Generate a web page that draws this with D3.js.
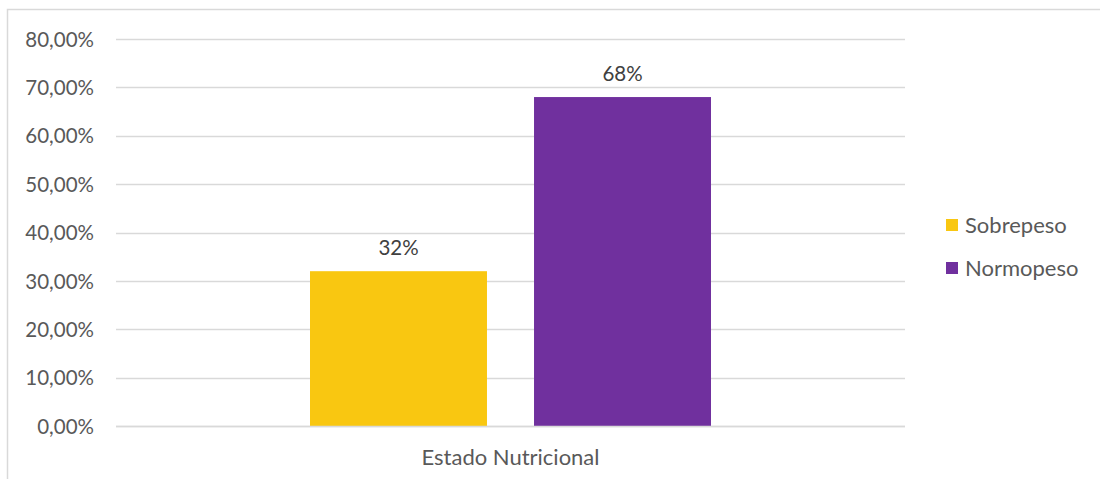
<!DOCTYPE html>
<html><head><meta charset="utf-8">
<script src="https://cdn.jsdelivr.net/npm/d3@7"></script>
<style>body{margin:0;background:#fff;} svg{display:block;font-family:"Lato","Open Sans",sans-serif;}</style>
</head><body>
<svg id="chart" width="1100" height="479"></svg>
<script>
const categories = ["Estado Nutricional"];
const seriesNames = ["Sobrepeso", "Normopeso"];
const seriesValues = [0.32, 0.68];
const seriesLabels = ["32%", "68%"];
const seriesColors = ["#F9C711", "#70309E"];
const yTicks = [0, 0.1, 0.2, 0.3, 0.4, 0.5, 0.6, 0.7, 0.8];

const svg = d3.select("#chart");
const plot = {left: 116, right: 905, top: 39, bottom: 426};

// outer chart border (extends past canvas on right/bottom)
svg.append("rect").attr("x", 7.5).attr("y", 9.5).attr("width", 1200).attr("height", 600)
  .attr("fill", "none").attr("stroke", "#d9d9d9").attr("stroke-width", 1.5);

const y = d3.scaleLinear().domain([0, 0.8]).range([plot.bottom, plot.top]);
const x0 = d3.scaleBand().domain(categories).range([plot.left, plot.right]).paddingInner(0).paddingOuter(0);
const bw = x0.bandwidth();
const edge = 194 / 789;
const x1 = d3.scaleBand().domain(seriesNames).range([bw*edge, bw*(1-edge)]).paddingInner(0.21).paddingOuter(0);

const fmt = v => d3.format(".2f")(v*100).replace(".", ",") + "%";

// gridlines
svg.append("g").selectAll("line").data(yTicks).join("line")
  .attr("x1", plot.left).attr("x2", plot.right)
  .attr("y1", d => Math.round(y(d)) + 0.5).attr("y2", d => Math.round(y(d)) + 0.5)
  .attr("stroke", "#d9d9d9").attr("stroke-width", 1.5);

// y axis labels
const yAxis = d3.axisLeft(y).tickValues(yTicks).tickFormat(fmt).tickSize(0).tickPadding(0);
const ga = svg.append("g").attr("transform", `translate(94,0)`).call(yAxis);
ga.select(".domain").remove();
ga.selectAll("text").attr("fill", "#595959").attr("font-size", 20.5).attr("font-family", "Lato, 'Open Sans', sans-serif").attr("dy", "0.35em");

// bars
const data = seriesNames.map((s, i) => ({cat: categories[0], s, v: seriesValues[i], label: seriesLabels[i], color: seriesColors[i]}));
const gb = svg.append("g");
gb.selectAll("rect").data(data).join("rect")
  .attr("x", d => x0(d.cat) + x1(d.s))
  .attr("width", x1.bandwidth())
  .attr("y", d => y(d.v))
  .attr("height", d => y(0) - y(d.v))
  .attr("fill", d => d.color);

// axis baseline on top of bars
svg.append("line").attr("x1", plot.left).attr("x2", plot.right)
  .attr("y1", Math.round(y(0)) + 0.5).attr("y2", Math.round(y(0)) + 0.5)
  .attr("stroke", "#d9d9d9").attr("stroke-width", 1.5);

// data labels
gb.selectAll("text").data(data).join("text")
  .attr("x", d => x0(d.cat) + x1(d.s) + x1.bandwidth()/2)
  .attr("y", d => y(d.v) - 16)
  .attr("text-anchor", "middle")
  .attr("fill", "#404040").attr("font-size", 20.5)
  .text(d => d.label);

// category axis
const xAxis = d3.axisBottom(x0).tickSize(0).tickPadding(0);
const gx = svg.append("g").attr("transform", `translate(0,${plot.bottom + 31})`).call(xAxis);
gx.select(".domain").remove();
gx.selectAll("text").attr("fill", "#595959").attr("font-size", 22).attr("font-family", "Lato, 'Open Sans', sans-serif").attr("dy", "0.35em");

// legend
const lg = svg.append("g").attr("transform", "translate(946,219)");
const items = lg.selectAll("g").data(data).join("g").attr("transform", (d, i) => `translate(0,${i*43})`);
items.append("rect").attr("width", 12).attr("height", 12).attr("fill", d => d.color);
items.append("text").attr("x", 19).attr("y", 6).attr("dy", "0.35em")
  .attr("fill", "#595959").attr("font-size", 22).text(d => d.s);
</script>
</body></html>
